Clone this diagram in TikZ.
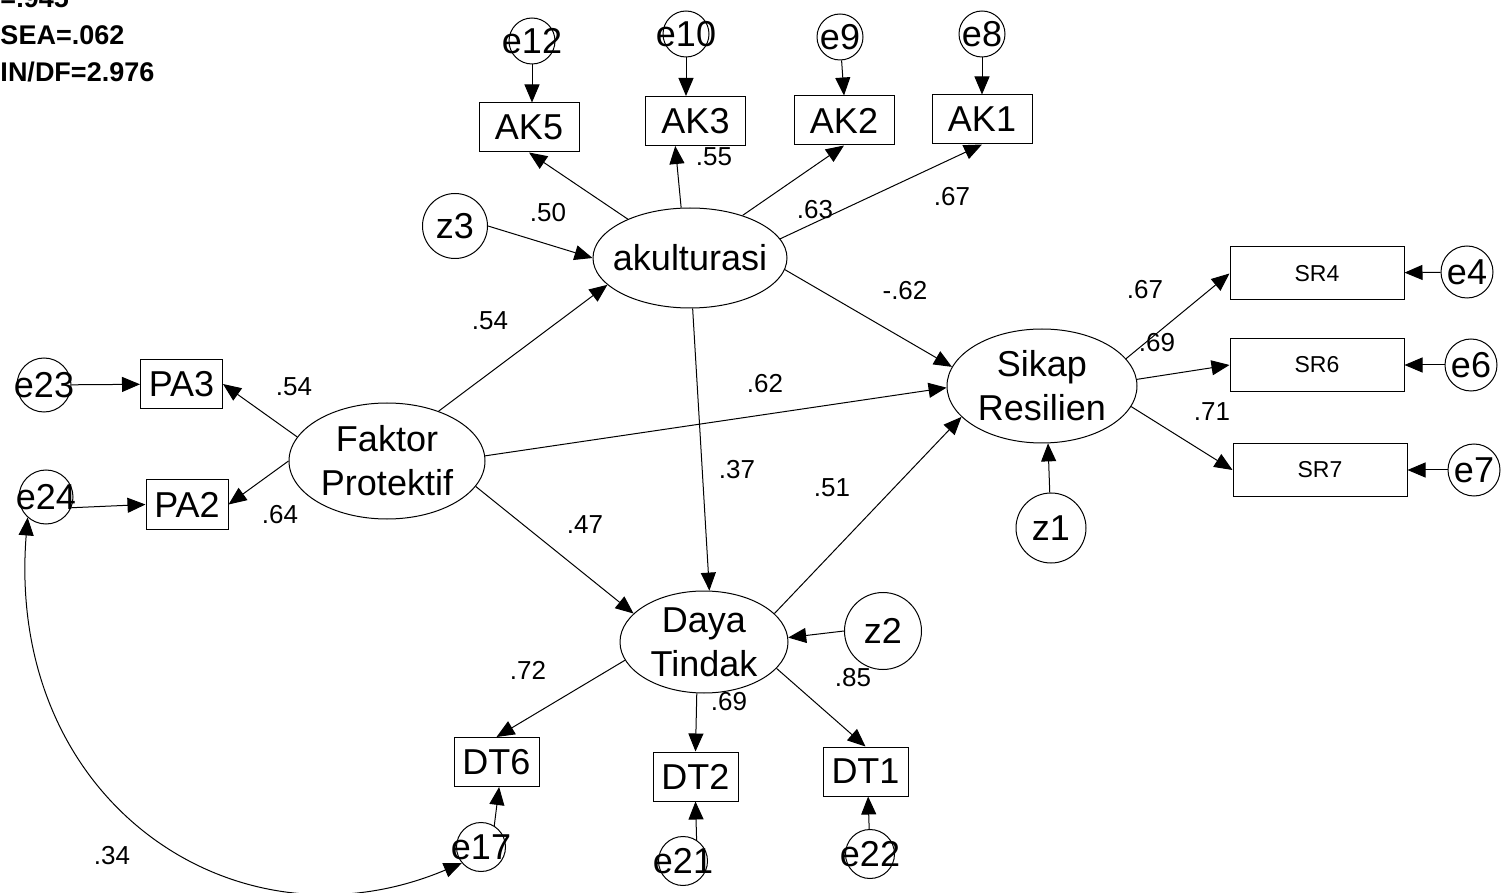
\documentclass[tikz,border=0pt]{standalone}
\usepackage{fontspec}
\setmainfont{Liberation Sans}
\usetikzlibrary{arrows.meta, shapes.geometric}

\begin{document}
\begin{tikzpicture}[x=0.5pt, y=-0.5pt, line width=0.5pt,
  >={Triangle[length=9pt, width=7.5pt]},
  big txt/.style={font=\fontsize{18}{22}\selectfont, inner sep=0pt, align=center},
  err/.style={shape=circle, draw, inner sep=0pt, minimum size=23pt, label={[big txt]center:#1}},
  dist/.style={shape=circle, draw, inner sep=0pt, label={[big txt]center:#1}},
  lat/.style={shape=ellipse, draw, inner sep=0pt, label={[big txt]center:#1}},
  ind/.style={shape=rectangle, draw, inner sep=0pt, minimum width=#1, minimum height=24.5pt, font=\fontsize{18}{22}\selectfont},
  srind/.style={shape=rectangle, draw, inner sep=0pt, minimum width=87pt, minimum height=26.5pt, font=\fontsize{11.5}{13}\selectfont},
  coef/.style={inner sep=0pt, font=\fontsize{13}{15}\selectfont},
  fit txt/.style={anchor=base west, inner sep=0pt, font=\fontsize{13.5}{16}\selectfont\bfseries}]
\useasboundingbox (0,0) rectangle (1501,893);
% fit indices
\node[fit txt] (gfi) at (0,8) {=.945};
\node[fit txt] (rmsea) at (0,45) {SEA=.062};
\node[fit txt] (cmin) at (0,82) {IN/DF=2.976};
% latent variables
\node[lat=akulturasi, minimum width=97pt, minimum height=50pt] (aku) at (690,258) {};
\node[lat={Faktor\\Protektif}, minimum width=98pt, minimum height=58pt] (fak) at (387,461) {};
\node[lat={Sikap\\Resilien}, minimum width=95pt, minimum height=57pt] (sik) at (1042,386) {};
\node[lat={Daya\\Tindak}, minimum width=84pt, minimum height=51pt] (daya) at (704,642) {};
\node[dist=z3, minimum size=32.5pt] (z3) at (455,226) {};
\node[dist=z1, minimum size=35pt] (z1) at (1051,528) {};
\node[dist=z2, minimum size=38.5pt] (z2) at (883,631) {};
% indicators
\node[ind=50pt] (ak5) at (529,127.5) {AK5};
\node[ind=50pt] (ak3) at (695.5,121) {AK3};
\node[ind=50pt] (ak2) at (844,120.5) {AK2};
\node[ind=50pt] (ak1) at (982,119.5) {AK1};
\node[ind=41pt] (pa3) at (181.5,384) {PA3};
\node[ind=41pt] (pa2) at (187,504.5) {PA2};
\node[ind=42.5pt] (dt6) at (496.5,762) {DT6};
\node[ind=42.5pt] (dt2) at (695.5,776.5) {DT2};
\node[ind=42.5pt] (dt1) at (865.5,771.5) {DT1};
\node[srind] (sr4) at (1317,273.5) {SR4};
\node[srind] (sr6) at (1317,365) {SR6};
\node[srind] (sr7) at (1320,470) {SR7};
% errors
\node[err=e12] (e12) at (532,41) {};
\node[err=e10] (e10) at (686,34) {};
\node[err=e9] (e9) at (840,37) {};
\node[err=e8] (e8) at (982,34) {};
\node[err=e23, minimum size=27pt] (e23) at (44,385) {};
\node[err=e24, minimum size=27pt] (e24) at (46,497) {};
\node[err=e4, minimum size=26pt] (e4) at (1467,272) {};
\node[err=e6, minimum size=26pt] (e6) at (1471,365) {};
\node[err=e7, minimum size=26pt] (e7) at (1474,470) {};
\node[err=e17, minimum size=24.5pt] (e17) at (481,847) {};
\node[err=e21, minimum size=24.5pt] (e21) at (683,861) {};
\node[err=e22, minimum size=24.5pt] (e22) at (870,854) {};
% coefficients
\node[coef] (lab1) at (548,213) {.50};
\node[coef] (lab2) at (714,157) {.55};
\node[coef] (lab3) at (815,210) {.63};
\node[coef] (lab4) at (952,197) {.67};
\node[coef] (lab5) at (490,321) {.54};
\node[coef] (lab6) at (905,291) {-.62};
\node[coef] (lab7) at (765,384) {.62};
\node[coef] (lab8) at (737,470) {.37};
\node[coef] (lab9) at (585,525) {.47};
\node[coef] (lab10) at (832,488) {.51};
\node[coef] (lab11) at (294,387) {.54};
\node[coef] (lab12) at (280,515) {.64};
\node[coef] (lab13) at (1145,290) {.67};
\node[coef] (lab14) at (1157,343) {.69};
\node[coef] (lab15) at (1212,412) {.71};
\node[coef] (lab16) at (528,670) {.72};
\node[coef] (lab17) at (729,702) {.69};
\node[coef] (lab18) at (853,678) {.85};
\node[coef] (lab19) at (112,856) {.34};
% paths
\path [->] (e12) edge (e12 |- ak5.north);
\path [->] (e10) edge (e10 |- ak3.north);
\path [->] (e9) edge (ak2.north);
\path [->] (e8) edge (ak1.north);
\path [->] (aku.148) edge (ak5.south);
\path [->] (aku.100) edge (ak3.231);
\path [->] (aku.39) edge (ak2.south);
\path [->] (aku.12) edge (ak1.south);
\path [->] (z3.east) edge (aku.west);
\path [->] (fak.44) edge (aku.198);
\path [->] (aku.353) edge (sik.168);
\path [->] (fak.3) edge (sik.181);
\path [->] (aku.273) edge (daya.84);
\path [->] (fak.344) edge (daya.158);
\path [->] (daya.22) edge (sik.201);
\path [->] (z2.west) edge (daya.3);
\path [->] (z1) edge (sik.276);
\path [->] (fak.165) edge (pa3.east);
\path [->] (fak.west) edge (pa2.east);
\path [->] (e23) edge (pa3);
\path [->] (e24.337) edge (pa2.west);
\path [->] (sik.18) edge (sr4.west);
\path [->] (sik.4) edge (sr6.west);
\path [->] (sik.347) edge (sr7.west);
\path [->] (e4) edge (sr4);
\path [->] (e6) edge (sr6);
\path [->] (e7) edge (sr7);
\path [->] (daya.193) edge (dt6.north);
\path [->] (daya.262) edge (dt2.north);
\path [->] (daya.340) edge (dt1.north);
\path [->] (e17.58) edge (dt6.276);
\path [->] (e21.57) edge (dt2.south);
\path [->] (e22) edge (dt1.276);
% covariance
\draw [<->] (e24.228) .. controls (5,803) and (237,958) .. (e17.220);
\end{tikzpicture}
\end{document}
